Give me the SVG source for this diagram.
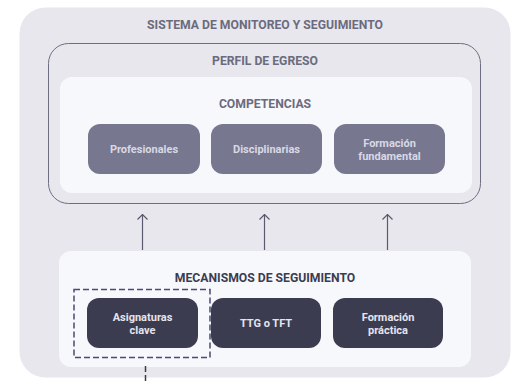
<svg xmlns="http://www.w3.org/2000/svg" width="530" height="382" viewBox="0 0 530 382">
<defs>
<style>
text{font-family:Roboto,"Liberation Sans",sans-serif;font-weight:bold;text-anchor:middle}
.h{font-size:12.2px;fill:#6b6b7d}
.hd{font-size:12.2px;fill:#3c3c50}
.lt{font-size:11px;fill:#d9d9e4}
.dt{font-size:11px;fill:#e4e4ee}
.ln{fill:#777790}
.dk{fill:#3c3c50}
.panel{fill:#f7f8fc}
.conn{stroke:#5a5a6e;stroke-width:1.2;fill:none}
</style>
<marker id="ah" viewBox="0 0 10 12" refX="9.5" refY="6" markerWidth="10" markerHeight="12" markerUnits="userSpaceOnUse" orient="auto">
<path d="M4.5,1 L9.5,6 L4.5,11" fill="none" stroke="#5a5a6e" stroke-width="1.2"/>
</marker>
</defs>
<rect width="530" height="382" fill="#ffffff"/>
<g id="sistema">
<rect x="19.5" y="7.5" width="491" height="370" rx="26" fill="#e7e7ed"/>
<text class="h" x="265" y="28.5">SISTEMA DE MONITOREO Y SEGUIMIENTO</text>
</g>
<g id="perfil">
<rect x="48.5" y="43.5" width="432" height="160" rx="20" fill="none" stroke="#6e6e82" stroke-width="1"/>
<text class="h" x="265" y="65">PERFIL DE EGRESO</text>
</g>
<g id="competencias">
<rect x="60" y="77" width="412" height="116" rx="12" class="panel"/>
<text class="h" x="265" y="107.5">COMPETENCIAS</text>
</g>
<g id="profesionales">
<rect x="88" y="124" width="112" height="50" rx="12" class="ln"/>
<text class="lt" x="144" y="153">Profesionales</text>
</g>
<g id="disciplinarias">
<rect x="211" y="124" width="111" height="50" rx="12" class="ln"/>
<text class="lt" x="266.5" y="153">Disciplinarias</text>
</g>
<g id="formacion-fundamental">
<rect x="334" y="124" width="111" height="50" rx="12" class="ln"/>
<text class="lt" x="389.5" y="147">Formación</text>
<text class="lt" x="389.5" y="160">fundamental</text>
</g>
<g id="mecanismos">
<rect x="59" y="251" width="412" height="116" rx="12" class="panel"/>
<text class="hd" x="265" y="281.5">MECANISMOS DE SEGUIMIENTO</text>
</g>
<g id="asignaturas-clave">
<rect x="87" y="298" width="111" height="50" rx="12" class="dk"/>
<text class="dt" x="142.5" y="321">Asignaturas</text>
<text class="dt" x="142.5" y="334">clave</text>
</g>
<g id="ttg-tft">
<rect x="211" y="298" width="110" height="50" rx="12" class="dk"/>
<text class="dt" x="266" y="327">TTG o TFT</text>
</g>
<g id="formacion-practica">
<rect x="333" y="298" width="110" height="50" rx="12" class="dk"/>
<text class="dt" x="388" y="321">Formación</text>
<text class="dt" x="388" y="334">práctica</text>
</g>
<g id="connectors">
<line class="conn" x1="142.5" y1="250" x2="142.5" y2="214.5" marker-end="url(#ah)"/>
<line class="conn" x1="264.5" y1="250" x2="264.5" y2="214.5" marker-end="url(#ah)"/>
<line class="conn" x1="387.5" y1="250" x2="387.5" y2="214.5" marker-end="url(#ah)"/>
<rect x="74" y="289.5" width="136" height="68" fill="none" stroke="#4a4a72" stroke-width="1.5" stroke-dasharray="6,3"/>
<line x1="145.5" y1="366" x2="145.5" y2="382" stroke="#3c3c50" stroke-width="1.5" stroke-dasharray="6,3"/>
</g>
</svg>
